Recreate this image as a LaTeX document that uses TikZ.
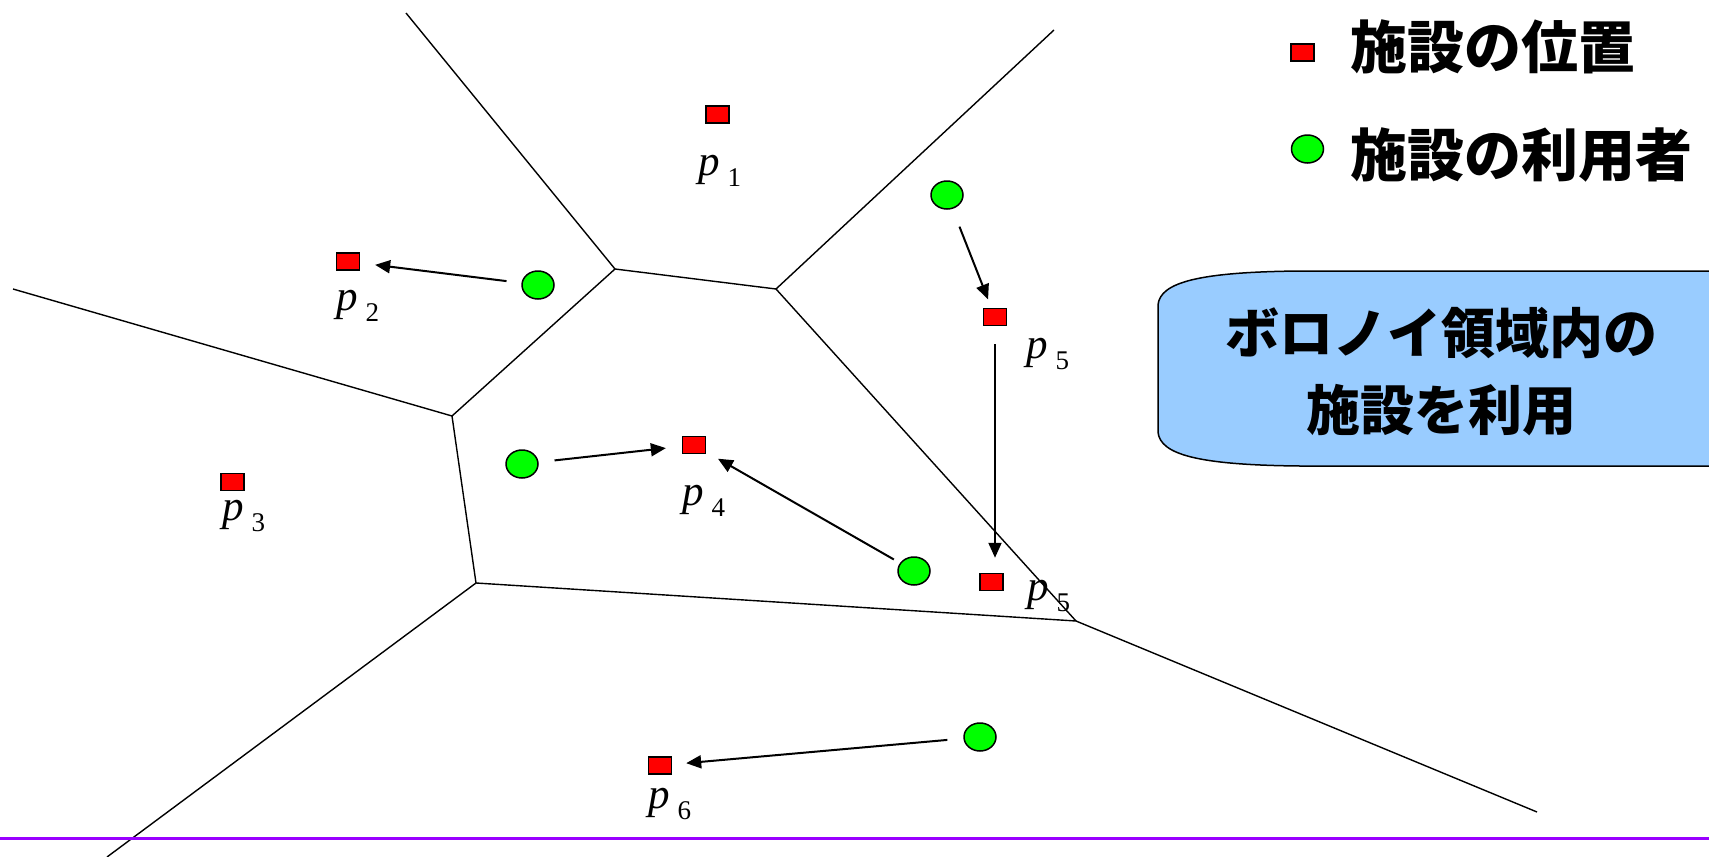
\documentclass[tikz,border=0pt]{standalone}
\usepackage{fontspec}
\setmainfont{Liberation Serif}
\newfontfamily\cjk{Noto Sans CJK JP}
\usetikzlibrary{shapes.geometric,arrows.meta}
\definecolor{facred}{RGB}{255,0,0}
\definecolor{usrgreen}{RGB}{0,255,0}
\definecolor{boxblue}{RGB}{153,204,255}
\definecolor{rulepurple}{RGB}{153,0,255}
\newcommand{\plab}[1]{\textit{p}\hspace{8pt}\raisebox{-11pt}{\fontsize{27}{27}\selectfont #1}}
\tikzset{
  fac/.style={rectangle, draw=black, fill=facred, line width=1.5pt, minimum width=23pt, minimum height=17pt, inner sep=0pt},
  usr/.style={ellipse, draw=black, fill=usrgreen, line width=1.5pt, minimum width=32pt, minimum height=28pt, inner sep=0pt},
  plabel/.style={anchor=base west, inner sep=0pt, font=\fontsize{43}{43}\selectfont},
  vline/.style={line width=1.4pt},
  arr/.style={line width=2pt, -{Triangle[length=15pt,width=13pt]}},
  cjktext/.style={inner sep=0pt, font=\cjk\bfseries\fontsize{57}{57}\selectfont}
}
\begin{document}
\begin{tikzpicture}[x=1pt,y=-1pt]
\useasboundingbox (0,0) rectangle (1709,857);
% Voronoi vertices
\coordinate (A) at (615,269);
\coordinate (B) at (776,289);
\coordinate (C) at (452,416);
\coordinate (D) at (476,583);
\coordinate (E) at (1076,621);
\coordinate (tA) at (406,13);
\coordinate (tB) at (1054,30);
\coordinate (lC) at (13,289);
\coordinate (bD) at (107,857);
\coordinate (bE) at (1537,812);
\draw[vline] (tA) -- (A) -- (B) -- (tB);
\draw[vline] (A) -- (C) -- (lC);
\draw[vline] (C) -- (D) -- (E) -- (B);
\draw[vline] (D) -- (bD);
\draw[vline] (E) -- (bE);
% bottom rule
\coordinate (r0) at (0,838);
\coordinate (r1) at (1709,838);
\draw[rulepurple, line width=3pt] (r0) -- (r1);
% facilities
\node[fac] (p1) at (717.5,114.5) {};
\node[fac] (p2) at (348,261.5) {};
\node[fac] (p3) at (232.5,482) {};
\node[fac] (p4) at (694,445) {};
\node[fac] (p5a) at (995,317) {};
\node[fac] (p5b) at (991.5,582) {};
\node[fac] (p6) at (660,765.5) {};
% labels
\node[plabel] (l1) at (698,175) {\plab{1}};
\node[plabel] (l2) at (336,310) {\plab{2}};
\node[plabel] (l3) at (222,520) {\plab{3}};
\node[plabel] (l4) at (682,505) {\plab{4}};
\node[plabel] (l5a) at (1026,358) {\plab{5}};
\node[plabel] (l5b) at (1027,600) {\plab{5}};
\node[plabel] (l6) at (648,808) {\plab{6}};
% users
\node[usr] (u1) at (947,195) {};
\node[usr] (u2) at (538,285) {};
\node[usr] (u3) at (522,464) {};
\node[usr] (u4) at (914,571) {};
\node[usr] (u5) at (980,737) {};
% arrows
\draw[arr, shorten <=15pt, shorten >=15pt] (u2) -- (p2);
\draw[arr, shorten <=19pt, shorten >=9pt] (u1) -- (p5a);
\draw[arr, shorten <=18pt, shorten >=15pt] (p5a) -- (p5a |- p5b.north);
\draw[arr, shorten <=16pt, shorten >=16pt] (u3) -- (p4);
\draw[arr, shorten <=7pt, shorten >=13.5pt] (u4) -- (p4);
\draw[arr, shorten <=16pt, shorten >=14pt] (u5) -- (p6);
% legend
\node[fac] (legfac) at (1302.5,52.5) {};
\node[usr] (legusr) at (1307.5,149) {};
\node[cjktext, anchor=west] (legfact) at (1350,47) {施設の位置};
\node[cjktext, anchor=west] (legusrt) at (1350,155) {施設の利用者};
% callout box
\draw[fill=boxblue, line width=1.5pt] (1720,271) -- (1300,271) .. controls (1200,272) and (1160,282) .. (1158,305) -- (1158,432) .. controls (1160,455) and (1200,465) .. (1300,466) -- (1720,466) -- cycle;
\node[inner sep=0pt, align=center, font=\cjk\bfseries\fontsize{54}{77}\selectfont] (boxtext) at (1441,372) {ボロノイ領域内の\\施設を利用};
\end{tikzpicture}
\end{document}
